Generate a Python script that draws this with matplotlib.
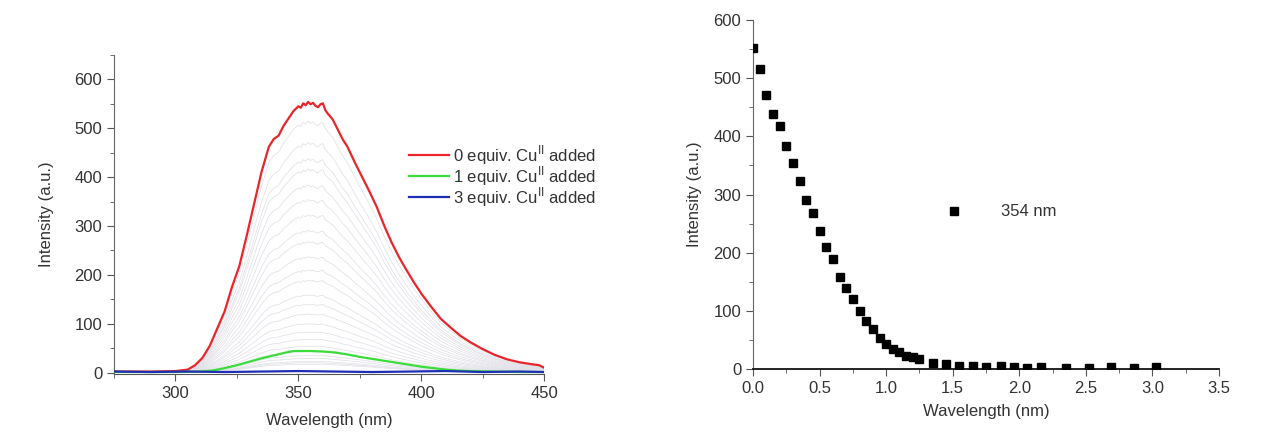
import numpy as np
import matplotlib.pyplot as plt
from matplotlib.ticker import MultipleLocator

plt.rcParams["font.family"] = ["Liberation Sans", "DejaVu Sans"]
plt.rcParams["mathtext.fontset"] = "custom"
plt.rcParams["mathtext.rm"] = "Liberation Sans"

# emission spectra (left panel)
red_wl = [275, 290, 300, 305, 308, 311, 314, 317, 320, 323, 326, 329, 332, 335,
          338, 340, 342, 344, 346, 348, 350, 351, 352, 353, 354, 355, 356, 357,
          358, 359, 360, 361, 362, 364, 366, 368, 370, 373, 376, 379, 382, 385,
          388, 391, 394, 397, 400, 404, 408, 412, 416, 420, 425, 430, 435, 440,
          445, 448, 450]
red_int = [2, 2, 3, 6, 15, 30, 55, 90, 125, 175, 218, 280, 345, 410,
           462, 478, 485, 505, 520, 535, 545, 542, 551, 547, 554, 549, 552, 546,
           543, 549, 551, 537, 530, 518, 498, 478, 462, 430, 400, 370, 338, 300,
           266, 236, 210, 185, 162, 135, 110, 92, 75, 62, 48, 36, 27, 21,
           17, 15, 10]

green_wl = [275, 300, 310, 315, 320, 325, 330, 335, 340, 345, 348, 350, 355, 360,
            365, 370, 375, 380, 385, 390, 395, 400, 405, 410, 415, 420, 430, 440, 450]
green_int = [1, 1, 2, 4, 9, 15, 22, 29, 35, 41, 44, 44, 44, 43,
             41, 37, 32, 28, 24, 20, 16, 12, 9, 6, 4, 3, 2, 1, 1]

blue_wl = [275, 290, 305, 320, 335, 350, 365, 380, 395, 410, 425, 440, 450]
blue_int = [2, 1, 2, 1, 2, 3, 2, 1, 2, 3, 1, 2, 1]

legend_labels = [r"0 equiv. Cu$^{\mathregular{II}}$ added",
                 r"1 equiv. Cu$^{\mathregular{II}}$ added",
                 r"3 equiv. Cu$^{\mathregular{II}}$ added"]

# titration at 354 nm (right panel)
equiv = [0.00, 0.05, 0.10, 0.15, 0.20, 0.25, 0.30, 0.35, 0.40, 0.45, 0.50,
         0.55, 0.60, 0.65, 0.70, 0.75, 0.80, 0.85, 0.90, 0.95, 1.00, 1.05,
         1.10, 1.15, 1.20, 1.25, 1.35, 1.45, 1.55, 1.65, 1.75, 1.86, 1.96,
         2.06, 2.16, 2.35, 2.52, 2.69, 2.86, 3.03]
intensity_354 = [552, 515, 471, 438, 417, 384, 354, 323, 291, 268, 237,
                 210, 189, 159, 140, 120, 100, 83, 68, 54, 43, 35,
                 29, 23, 20, 17, 10, 9, 6, 6, 4, 5, 4,
                 2, 3, 2, 2, 4, 2, 3]

fig = plt.figure(figsize=(12.87, 4.33), dpi=100)
ax1 = fig.add_axes([0.0886, 0.1363, 0.3341, 0.7367])
ax2 = fig.add_axes([0.5851, 0.1478, 0.3621, 0.806])

# intermediate spectra, scaled to the 354 nm intensities
red_arr = np.array(red_int, dtype=float)
for v in intensity_354[1:26]:
    ax1.plot(red_wl, red_arr * v / max(red_int), color="#dedee6", lw=0.5, zorder=1)

ax1.plot(red_wl, red_int, color="#e8252b", lw=1.6, label=legend_labels[0], zorder=3)
ax1.plot(green_wl, green_int, color="#3bdc3b", lw=1.6, label=legend_labels[1], zorder=3)
ax1.plot(blue_wl, blue_int, color="#1f2fb5", lw=1.6, label=legend_labels[2], zorder=4)

ax1.set_xlim(275, 450)
ax1.set_ylim(-3, 650)
ax1.xaxis.set_major_locator(MultipleLocator(50))
ax1.xaxis.set_minor_locator(MultipleLocator(25))
ax1.yaxis.set_major_locator(MultipleLocator(100))
ax1.yaxis.set_minor_locator(MultipleLocator(50))
ax1.set_yticks(range(0, 700, 100))
ax1.set_xlabel("Wavelength (nm)", fontsize=12, color="#333333", labelpad=9)
ax1.set_ylabel("Intensity (a.u.)", fontsize=12, color="#333333", labelpad=15)
ax1.legend(loc="upper left", bbox_to_anchor=(0.67, 0.745), frameon=False,
           fontsize=12, handlelength=2.4, handletextpad=0.25, labelspacing=-0.15,
           borderaxespad=0, labelcolor="#333333")

ax2.plot(equiv, intensity_354, "s", color="black", ms=6, label="354 nm", zorder=3)
ax2.set_xlim(0, 3.5)
ax2.set_ylim(0, 600)
ax2.xaxis.set_major_locator(MultipleLocator(0.5))
ax2.xaxis.set_minor_locator(MultipleLocator(0.25))
ax2.yaxis.set_major_locator(MultipleLocator(100))
ax2.yaxis.set_minor_locator(MultipleLocator(50))
ax2.set_xlabel("Wavelength (nm)", fontsize=12, color="#333333", labelpad=6)
ax2.set_ylabel("Intensity (a.u.)", fontsize=12, color="#333333", labelpad=8)
ax2.legend(loc="center left", bbox_to_anchor=(0.4, 0.45), frameon=False,
           fontsize=12, handlelength=1.0, handletextpad=2.3, borderaxespad=0,
           labelcolor="#333333")

for ax in (ax1, ax2):
    ax.spines["top"].set_visible(False)
    ax.spines["right"].set_visible(False)
    ax.spines["left"].set_color("#666666")
    ax.spines["bottom"].set_color("#555555")
    ax.tick_params(which="both", direction="out", colors="#555555",
                   labelcolor="#333333", labelsize=12)
    ax.tick_params(which="major", length=5)
    ax.tick_params(which="minor", length=3)
ax2.spines["bottom"].set_color("#111111")
ax2.spines["bottom"].set_linewidth(1.3)

fig.savefig("out.png", dpi=100)
